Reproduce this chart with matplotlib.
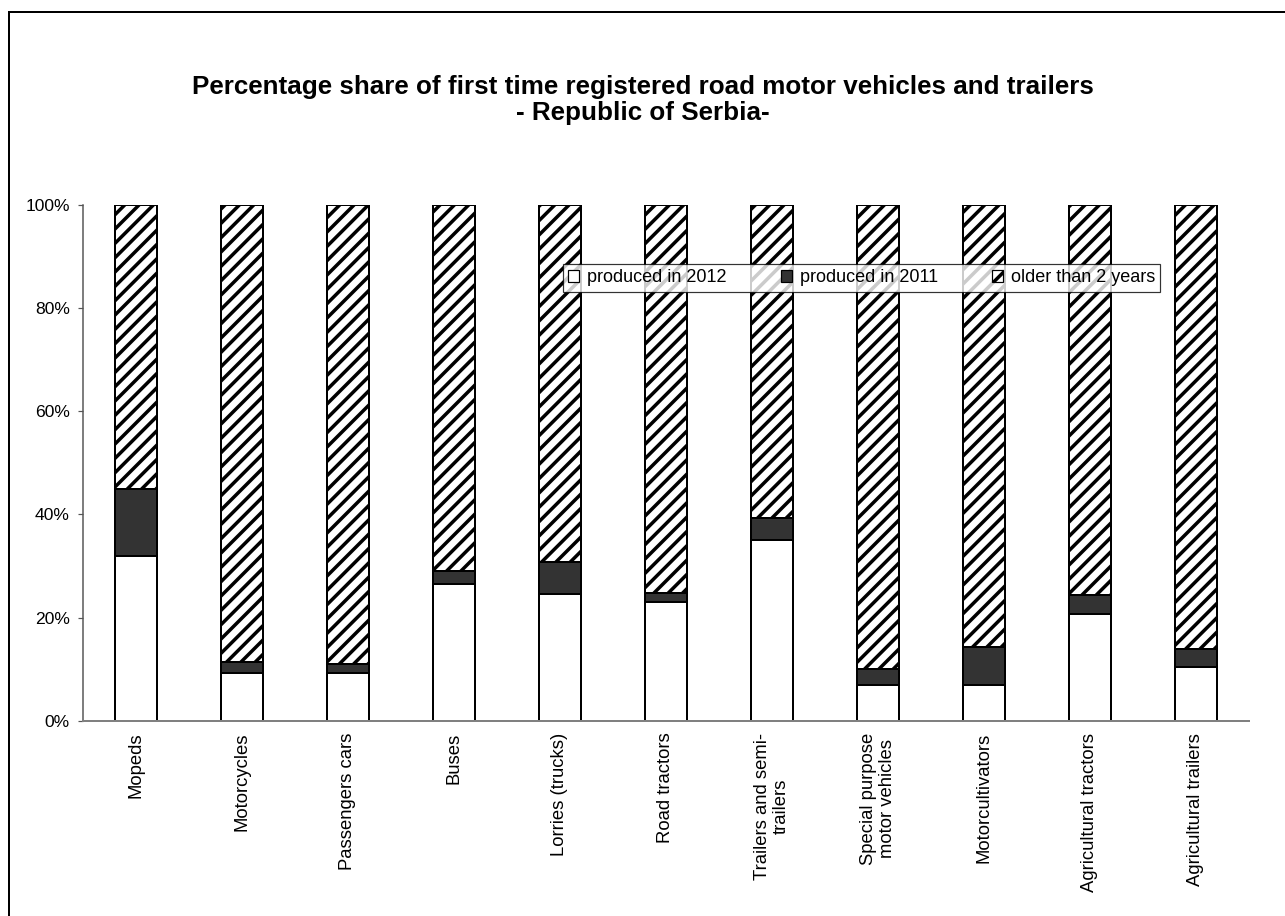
import numpy as np
import matplotlib
matplotlib.use("Agg")
import matplotlib.pyplot as plt
from matplotlib.patches import Rectangle

categories = ["Mopeds", "Motorcycles", "Passengers cars", "Buses", "Lorries (trucks)",
              "Road tractors", "Trailers and semi-\ntrailers", "Special purpose\nmotor vehicles",
              "Motorcultivators", "Agricultural tractors", "Agricultural trailers"]
# cumulative tops (%)
top_2012 = [32.0, 9.3, 9.3, 26.5, 24.5, 23.0, 35.0, 7.0, 7.0, 20.6, 10.5]
top_2011 = [44.9, 11.3, 10.9, 29.1, 30.8, 24.7, 39.4, 10.1, 14.2, 24.4, 13.9]

share_2012 = np.array(top_2012)
share_2011 = np.array(top_2011) - share_2012
share_older = 100 - np.array(top_2011)

series_labels = ["produced in 2012", "produced in 2011", "older than 2 years"]
yticks = [0, 20, 40, 60, 80, 100]

DPI = 86
def px(v):  # pixel size -> points
    return v * 72 / DPI

plt.rcParams['font.family'] = ['Liberation Sans', 'DejaVu Sans']
plt.rcParams['hatch.linewidth'] = px(3.5)
plt.rcParams['hatch.color'] = 'black'

fig = plt.figure(figsize=(1285 / DPI, 916 / DPI), dpi=DPI)
fig.patch.set_facecolor('white')
ax = fig.add_axes([82.7 / 1285, 1 - 720.7 / 916, (1249 - 82.7) / 1285, (720.7 - 205) / 916])

x = np.arange(len(categories))
w = 0.4
ax.bar(x, share_2012, w, color='white', edgecolor='black', linewidth=px(2), label=series_labels[0])
ax.bar(x, share_2011, w, bottom=share_2012, color='#333333', edgecolor='black',
       linewidth=px(2), label=series_labels[1])
ax.bar(x, share_older, w, bottom=share_2012 + share_2011, color='white', edgecolor='black',
       hatch='//', linewidth=px(2), label=series_labels[2])

ax.set_xlim(-0.5, len(categories) - 0.5)
ax.set_ylim(0, 100)
ax.set_yticks(yticks)
ax.set_yticklabels([f"{t}%" for t in yticks], fontsize=px(17.5))
ax.set_xticks(x)
ax.set_xticklabels(categories, rotation=90, fontsize=px(18.5), va='top', ha='center',
                   multialignment='center', linespacing=1.1)
ax.tick_params(axis='x', length=0, pad=px(12))
ax.tick_params(axis='y', length=px(5), width=px(1.2), color='#555555', pad=px(8))
for s in ['top', 'right']:
    ax.spines[s].set_visible(False)
ax.spines['left'].set_color('#555555')
ax.spines['bottom'].set_color('#808080')
ax.spines['left'].set_linewidth(px(1.5))
ax.spines['bottom'].set_linewidth(px(2))

leg = ax.legend(ncol=3, loc='upper left', bbox_to_anchor=(563 / 1285, 1 - 264 / 916),
                bbox_transform=fig.transFigure, fontsize=px(18), frameon=True, fancybox=False,
                handlelength=0.6, handleheight=0.6, handletextpad=0.45, columnspacing=3.0,
                borderpad=0.3, borderaxespad=0)
leg.get_frame().set_edgecolor('black')
leg.get_frame().set_linewidth(px(1.2))
for h in leg.legend_handles:
    h.set_linewidth(px(1.2))

fig.text(0.5, 1 - 100 / 916,
         "Percentage share of first time registered road motor vehicles and trailers\n- Republic of Serbia-",
         ha='center', va='center', fontsize=px(26), fontweight='bold', linespacing=1.1)

fig.patches.append(Rectangle((9 / 1285, -0.1), 1.2, 1.1 - 12 / 916, transform=fig.transFigure,
                             fill=False, edgecolor='black', linewidth=px(2)))

fig.savefig("out.png", dpi=DPI, facecolor='white')
